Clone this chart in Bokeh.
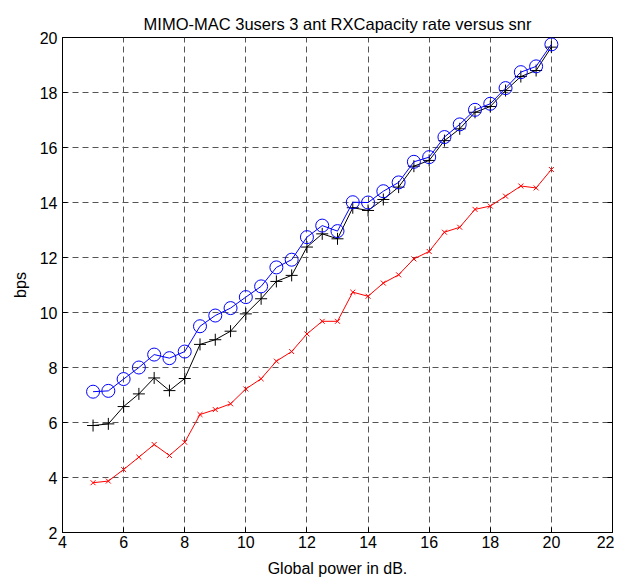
from bokeh.plotting import figure
from bokeh.models import Range1d, FixedTicker, LinearAxis
from bokeh.embed import file_html
from bokeh.resources import INLINE

snr = [5, 5.5, 6, 6.5, 7, 7.5, 8, 8.5, 9, 9.5, 10, 10.5, 11, 11.5, 12, 12.5,
       13, 13.5, 14, 14.5, 15, 15.5, 16, 16.5, 17, 17.5, 18, 18.5, 19, 19.5, 20]
blue_vals = [7.12, 7.15, 7.58, 8.0, 8.47, 8.34, 8.58, 9.5, 9.89, 10.16, 10.56, 10.95,
             11.64, 11.92, 12.74, 13.16, 12.96, 14.01, 14.0, 14.41, 14.73, 15.48,
             15.65, 16.38, 16.84, 17.37, 17.59, 18.16, 18.74, 18.95, 19.75]
black_vals = [5.89, 5.95, 6.58, 7.04, 7.62, 7.16, 7.6, 8.84, 9.01, 9.32, 9.95, 10.5,
              11.13, 11.35, 12.38, 12.86, 12.68, 13.81, 13.71, 14.11, 14.56, 15.32,
              15.53, 16.25, 16.68, 17.28, 17.49, 18.07, 18.58, 18.8, 19.65]
red_vals = [3.81, 3.87, 4.29, 4.74, 5.2, 4.8, 5.28, 6.29, 6.47, 6.68, 7.22, 7.59,
            8.23, 8.58, 9.22, 9.68, 9.68, 10.74, 10.59, 11.07, 11.37, 11.95,
            12.22, 12.92, 13.1, 13.75, 13.87, 14.23, 14.6, 14.53, 15.2]
x_ticks = [4, 6, 8, 10, 12, 14, 16, 18, 20, 22]
y_ticks = [2, 4, 6, 8, 10, 12, 14, 16, 18, 20]

FONT = "Liberation Sans"

p = figure(width=614, height=583, output_backend="svg", toolbar_location=None,
           x_range=Range1d(4, 22), y_range=Range1d(2, 20),
           x_axis_label="Global power in dB.", y_axis_label="bps",
           title="MIMO-MAC 3users 3 ant RXCapacity rate versus snr",
           min_border_left=62, min_border_right=2, min_border_top=37, min_border_bottom=51)

p.title.align = "center"
p.title.text_font = FONT
p.title.text_font_size = "16.5px"
p.title.text_font_style = "normal"
p.title.text_color = "black"
p.title.offset = 0

p.outline_line_color = "black"
p.outline_line_width = 1
p.background_fill_color = "white"
p.border_fill_color = "white"

for ax in [p.xaxis[0], p.yaxis[0]]:
    ax.major_tick_in = 5
    ax.major_tick_out = 0
    ax.minor_tick_line_color = None
    ax.axis_line_color = "black"
    ax.major_tick_line_color = "black"
    ax.major_label_text_font = FONT
    ax.major_label_text_font_size = "16px"
    ax.major_label_text_color = "black"
    ax.axis_label_text_font = FONT
    ax.axis_label_text_font_size = "16px"
    ax.axis_label_text_font_style = "normal"
    ax.axis_label_text_color = "black"
    ax.major_label_standoff = 3
    ax.axis_label_standoff = 9

p.yaxis[0].major_label_standoff = 5
p.yaxis[0].axis_label_standoff = 8

p.xaxis.ticker = FixedTicker(ticks=x_ticks)
p.yaxis.ticker = FixedTicker(ticks=y_ticks)

right_ax = LinearAxis(ticker=FixedTicker(ticks=y_ticks), major_tick_in=5, major_tick_out=0,
                      minor_tick_line_color=None, axis_line_color="black",
                      major_label_overrides={t: "" for t in y_ticks},
                      major_label_standoff=0)
p.add_layout(right_ax, "right")

p.xgrid.ticker = FixedTicker(ticks=x_ticks)
p.ygrid.ticker = FixedTicker(ticks=y_ticks)
for g in [p.xgrid[0], p.ygrid[0]]:
    g.grid_line_color = "#555555"
    g.grid_line_dash = "6 4"
    g.grid_line_width = 1

p.line(snr, black_vals, line_color="black", line_width=1)
p.scatter(snr, black_vals, marker="cross", size=12, line_color="black", line_width=1)

p.line(snr, blue_vals, line_color="blue", line_width=1)
p.scatter(snr, blue_vals, marker="circle", size=13, line_color="blue", fill_color=None, line_width=1)

p.line(snr, red_vals, line_color="red", line_width=1)
p.scatter(snr, red_vals, marker="x", size=7, line_color="red", line_width=1)

open("out.html", "w").write(file_html(p, INLINE))
